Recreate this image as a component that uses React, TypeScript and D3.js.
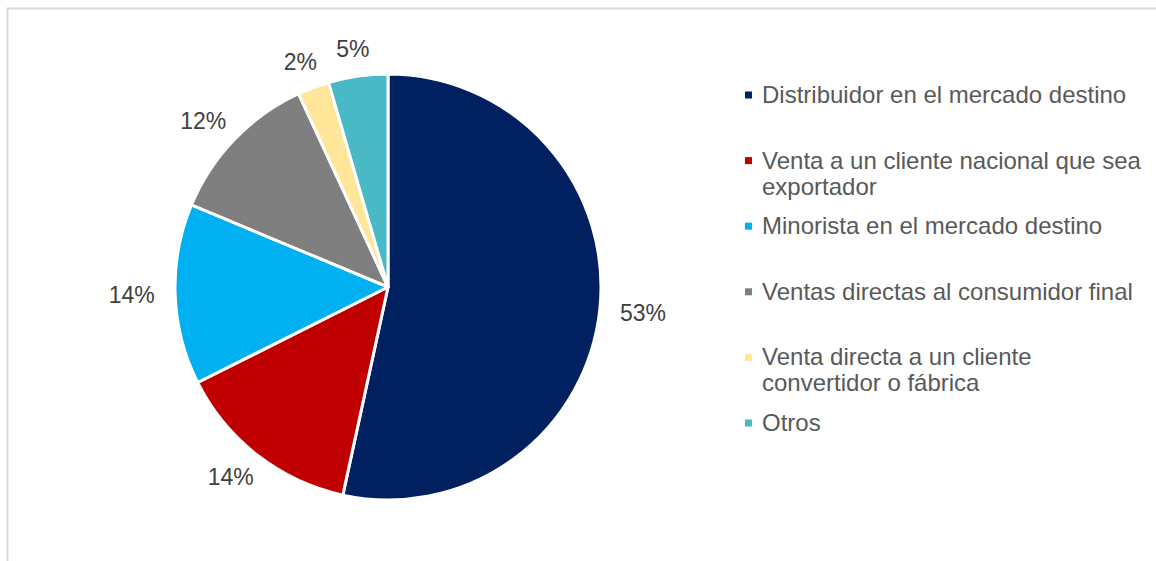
import React, { useRef, useEffect } from "react";
import * as d3 from "d3";

const categories = [
  ["Distribuidor en el mercado destino"],
  ["Venta a un cliente nacional que sea", "exportador"],
  ["Minorista en el mercado destino"],
  ["Ventas directas al consumidor final"],
  ["Venta directa a un cliente", "convertidor o fábrica"],
  ["Otros"],
];
const values = [53.4, 14.2, 13.7, 11.8, 2.4, 4.5];
const colors = ["#002060", "#C00000", "#00B0F0", "#7F7F7F", "#FFE699", "#4AB9C6"];

export default function App() {
  const svgRef = useRef<SVGSVGElement>(null);

  useEffect(() => {
    const svg = d3.select(svgRef.current);
    svg.selectAll("*").remove();

    const width = 1156;
    const height = 561;
    svg.attr("width", width).attr("height", height);

    // chart frame (runs off the right and bottom edges)
    svg.append("rect")
      .attr("x", 7.5)
      .attr("y", 8.5)
      .attr("width", width + 10)
      .attr("height", height + 10)
      .attr("fill", "white")
      .attr("stroke", "#D9D9D9")
      .attr("stroke-width", 2);

    const cx = 388;
    const cy = 287;
    const r = 213;
    const font = "Arial, 'Liberation Sans', sans-serif";

    const data = values.map((v, i) => ({ v, i }));
    const pie = d3.pie<{ v: number; i: number }>().value(d => d.v).sort(null);
    const arcs = pie(data);
    const arc = d3.arc<d3.PieArcDatum<{ v: number; i: number }>>()
      .innerRadius(0)
      .outerRadius(r);

    const g = svg.append("g").attr("transform", `translate(${cx},${cy})`);

    g.selectAll("path")
      .data(arcs)
      .enter().append("path")
      .attr("d", arc)
      .attr("fill", d => colors[d.data.i])
      .attr("stroke", "white")
      .attr("stroke-width", 3)
      .attr("stroke-linejoin", "round");

    // outside-end labels
    g.selectAll("text.lbl")
      .data(arcs)
      .enter().append("text")
      .attr("class", "lbl")
      .each(function (d) {
        const a = (d.startAngle + d.endAngle) / 2;
        const dx = Math.sin(a);
        const dy = -Math.cos(a);
        const txt = `${Math.round(d.data.v)}%`;
        const w = txt.length * 13;
        const h = 6;
        const x = dx * (r + 24) + (dx * w) / 2;
        const y = dy * (r + 24) + (dy * h) / 2;
        d3.select(this)
          .attr("x", x)
          .attr("y", y + 8)
          .attr("text-anchor", "middle")
          .text(txt);
      })
      .style("font-family", font)
      .style("font-size", "23px")
      .attr("fill", "#404040");

    // legend
    const legend = svg.append("g").attr("transform", "translate(745, 95)");
    const step = 65.6;
    categories.forEach((lines, i) => {
      const item = legend.append("g").attr("transform", `translate(0, ${i * step})`);
      item.append("rect")
        .attr("x", 0)
        .attr("y", -3.5)
        .attr("width", 7)
        .attr("height", 7)
        .attr("fill", colors[i]);
      lines.forEach((ln, j) => {
        item.append("text")
          .attr("x", 17)
          .attr("y", 8 + j * 26)
          .text(ln)
          .style("font-family", font)
          .style("font-size", "24px")
          .attr("fill", "#595959");
      });
    });
  }, []);

  return <svg ref={svgRef} style={{ position: "absolute", left: 0, top: 0 }}></svg>;
}
